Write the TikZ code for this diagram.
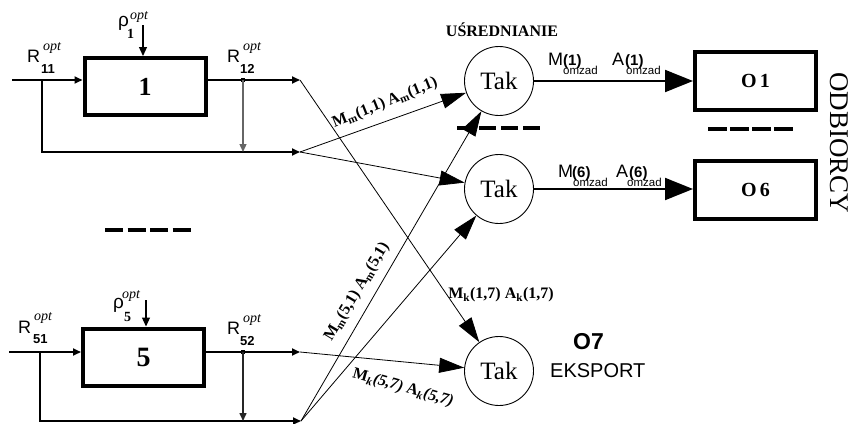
\documentclass[tikz,border=0pt]{standalone}
\usepackage{fontspec}
\setmainfont{Liberation Serif}
\setsansfont{Liberation Sans}
\usetikzlibrary{arrows.meta}
\newcommand\fs[1]{\fontsize{#1}{#1}\selectfont}
\begin{document}
\begin{tikzpicture}[x=1pt,y=-1pt,
  thk/.style={line width=1.8pt},
  thn/.style={line width=0.8pt},
  smtip/.style={-{Triangle[length=8pt,width=7pt]}},
  bigtip/.style={-{Triangle[length=25pt,width=15pt]}},
  hugetip/.style={-{Triangle[length=28pt,width=22pt]}},
  blk/.style={draw,line width=4pt,minimum width=121pt,minimum height=57pt,inner sep=0pt,font=\fs{26}\bfseries},
  obox/.style={draw,line width=4pt,minimum width=121pt,minimum height=58pt,inner sep=0pt,font=\fs{20}\bfseries},
  tak/.style={draw,circle,line width=0.9pt,minimum size=69pt,inner sep=0pt,font=\fs{25}},
  lab/.style={font=\fs{16}\bfseries,inner sep=0pt},
  Rl/.style={font=\sffamily\fs{18},inner sep=0pt,anchor=base west},
  rhol/.style={font=\sffamily\fs{19},inner sep=0pt,anchor=base west},
  optl/.style={font=\itshape\fs{14},inner sep=0pt,anchor=base west},
  subsf/.style={font=\sffamily\bfseries\fs{13},inner sep=0pt,anchor=base west},
  subrm/.style={font=\bfseries\fs{14},inner sep=0pt,anchor=base west},
  bigsf/.style={font=\sffamily\fs{18},inner sep=0pt,anchor=base west},
  parsf/.style={font=\sffamily\bfseries\fs{15},inner sep=0pt,anchor=base west},
  omz/.style={font=\sffamily\fs{11.5},inner sep=0pt,anchor=base west},
  dotn/.style={fill,minimum size=4.5pt,inner sep=0pt},
  dashl/.style={line width=4pt}
]
\useasboundingbox (0,0) rectangle (850,423);

% ---------- block 1 ----------
\node[blk] (b1) at (145,86.5) {\raisebox{-3pt}{1}};
\coordinate (in1) at (12,80);
\coordinate (br1) at (42,80);
\coordinate (j1a) at (300,80);
\coordinate (j1b) at (300,152);
\draw[thk,smtip] (in1) -- (in1 -| b1.west);
\draw[thk,smtip] (br1) |- (j1b);
\draw[thk,smtip] (b1.east |- j1a) -- (j1a);
\node[dotn] (d1) at (243,80) {};
\draw[line width=1.3pt,black!60,smtip] (d1.center) -- (d1.center |- j1b);
\coordinate (rho1a) at (143,25);
\draw[line width=1.2pt,-{Triangle[length=9pt,width=8pt]}] (rho1a) -- (rho1a |- b1.north);
\node[Rl] (r11) at (27,62) {R};
\node[optl] (r11s) at (43,50) {opt};
\node[subsf] (r11b) at (41,73) {11};
\node[Rl] (r12) at (227,62) {R};
\node[optl] (r12s) at (243,50) {opt};
\node[subsf] (r12b) at (240,73) {12};
\node[rhol] (rho1) at (118,26) {ρ};
\node[optl] (rho1s) at (130,19) {opt};
\node[subrm] (rho1b) at (127,38) {1};

% ---------- block 5 ----------
\node[blk] (b5) at (143.5,357) {\raisebox{-1pt}{\fs{28}5}};
\coordinate (in5) at (9,352);
\coordinate (br5) at (40,352);
\coordinate (j5a) at (300,352);
\coordinate (j5b) at (301,421);
\draw[thk,smtip] (in5) -- (in5 -| b5.west);
\draw[thk,smtip] (br5) |- (j5b);
\draw[thk,smtip] (b5.east |- j5a) -- (j5a);
\node[dotn] (d5) at (243,352) {};
\draw[line width=1.5pt,black!85,smtip] (d5.center) -- (d5.center |- j5b);
\coordinate (rho5a) at (146,300);
\draw[line width=1.2pt,-{Triangle[length=9pt,width=8pt]}] (rho5a) -- (rho5a |- b5.north);
\node[Rl] (r51) at (18,333) {R};
\node[optl] (r51s) at (34,320) {opt};
\node[subsf] (r51b) at (33,343) {51};
\node[Rl] (r52) at (227,334) {R};
\node[optl] (r52s) at (243,322) {opt};
\node[subsf] (r52b) at (240,345) {52};
\node[rhol] (rho5) at (113,308) {ρ};
\node[optl] (rho5s) at (122,298) {opt};
\node[subrm] (rho5b) at (124,321) {5};

\draw[dashl,dash pattern=on 18pt off 4.5pt] (105,230) -- (191,230);

% ---------- averaging ----------
\node[font=\fs{16}\bfseries] (usr) at (502,30) {UŚREDNIANIE};
\node[tak] (tak1) at (499,81) {Tak};
\node[tak] (tak2) at (499,189) {Tak};
\node[tak] (tak3) at (499,371) {Tak};
\draw[dashl,line width=4.5pt,dash pattern=on 17pt off 5pt] (457,128) -- (540,128);

\draw[thn,bigtip] (j1b) -- (tak1);
\draw[thn,bigtip] (j1b) -- (tak2);
\draw[thn,bigtip] (j1a) -- (tak3);
\draw[thn,bigtip] (j5a) -- (tak3);
\draw[thn,bigtip] (j5b) -- (tak1);
\draw[thn,bigtip] (j5b) -- (tak2);

\node[lab,rotate=22] (l11) at (385,103) {M\textsubscript{m}(1,1) A\textsubscript{m}(1,1)};
\node[lab,rotate=59] (l51) at (357,292) {M\textsubscript{m}(5,1) A\textsubscript{m}(5,1)};
\node[lab] (l17) at (501,295) {M\textsubscript{k}(1,7) A\textsubscript{k}(1,7)};
\node[lab,rotate=-16] (l57) at (403,388) {M\textsubscript{\itshape k}\textit{(5,7)} A\textsubscript{\itshape k}\textit{(5,7)}};

% ---------- receivers ----------
\node[obox] (o1) at (755.5,81) {O\kern3pt1};
\node[obox] (o6) at (755.5,190) {O\kern3pt6};
\draw[line width=2pt,hugetip] (tak1) -- (o1);
\draw[line width=2pt,hugetip] (tak2.east) -- (tak2.east -| o6.west);
\draw[dashl,dash pattern=on 19pt off 3pt] (708,129) -- (794,129);
\node[font=\fs{27},rotate=-90,anchor=base,inner sep=0pt] (odb) at (830,143) {ODBIORCY};

\node[bigsf] (m1) at (548,65) {M};
\node[parsf] (m1p) at (563,65) {(1)};
\node[omz] (m1o) at (563,74) {omzad};
\node[bigsf] (a1) at (612,65) {A};
\node[parsf] (a1p) at (625,65) {(1)};
\node[omz] (a1o) at (626,74) {omzad};
\node[bigsf] (m6) at (558,177) {M};
\node[parsf] (m6p) at (572,177) {(6)};
\node[omz] (m6o) at (573,186) {omzad};
\node[bigsf] (a6) at (616,177) {A};
\node[parsf] (a6p) at (629,177) {(6)};
\node[omz] (a6o) at (627,186) {omzad};

\node[font=\sffamily\bfseries\fs{23},inner sep=0pt,anchor=base west] (o7) at (573,349) {O7};
\node[font=\sffamily\fs{20},inner sep=0pt,anchor=base west] (eks) at (550,377) {EKSPORT};
\end{tikzpicture}
\end{document}
